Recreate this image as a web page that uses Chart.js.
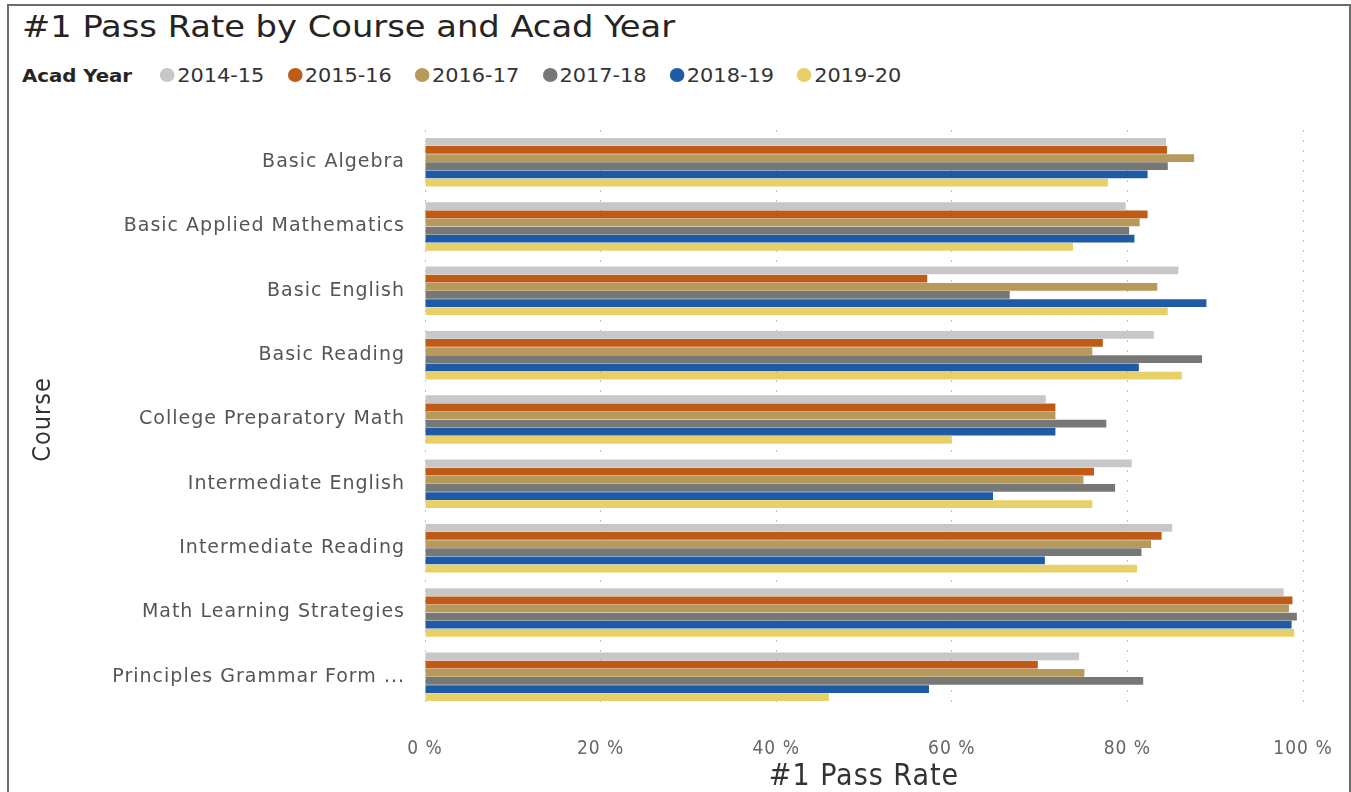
<!DOCTYPE html>
<html>
<head>
<meta charset="utf-8">
<script src="https://cdn.jsdelivr.net/npm/chart.js@4.4.1/dist/chart.umd.min.js"></script>
<style>
  body { margin: 0; background: #fff; overflow: hidden; }
  #frame { position: absolute; left: 7px; top: 4px; width: 1340px; height: 800px; border: 2px solid #6b6b6b; border-bottom: none; }
  #title { position: absolute; left: 22px; top: 9px; font: 30px "DejaVu Sans Condensed", sans-serif; color: #252423; transform-origin: left top; transform: scaleX(1.25); white-space: nowrap; }
  #legend { position: absolute; left: 22px; top: 64px; font: 19px "DejaVu Sans Condensed", sans-serif; color: #333; transform-origin: left top; transform: scaleX(1.22); white-space: nowrap; display: flex; align-items: center; }
  #legend b { margin-right: 23px; color: #252423; font-size: 18px; }
  .item { display: flex; align-items: center; margin-right: 19px; }
  .dot { width: 12px; height: 14px; border-radius: 50%; margin-right: 2px; }
  #wrap { position: absolute; left: 0; top: 0; width: 1351px; height: 792px; }
</style>
</head>
<body>
<div id="frame"></div>
<div id="title">#1 Pass Rate by Course and Acad Year</div>
<div id="legend"><b>Acad Year</b></div>
<div id="wrap"><canvas id="chart"></canvas></div>
<script>
// valeurs (en %)
const courses = [
  'Basic Algebra',
  'Basic Applied Mathematics',
  'Basic English',
  'Basic Reading',
  'College Preparatory Math',
  'Intermediate English',
  'Intermediate Reading',
  'Math Learning Strategies',
  'Principles Grammar Form ...'
];
const years = ['2014-15', '2015-16', '2016-17', '2017-18', '2018-19', '2019-20'];
const yearColors = ['#c5c7c9', '#bf5b17', '#b8995c', '#767876', '#1f5aa6', '#e8d068'];

const rate1415 = [84.4, 79.8, 85.8, 83.0, 70.7, 80.5, 85.1, 97.8, 74.5];
const rate1516 = [84.5, 82.3, 57.2, 77.2, 71.8, 76.2, 83.9, 98.8, 69.8];
const rate1617 = [87.6, 81.4, 83.4, 76.0, 71.8, 75.0, 82.7, 98.4, 75.1];
const rate1718 = [84.6, 80.2, 66.6, 88.5, 77.6, 78.6, 81.6, 99.3, 81.8];
const rate1819 = [82.3, 80.8, 89.0, 81.3, 71.8, 64.7, 70.6, 98.7, 57.4];
const rate1920 = [77.8, 73.8, 84.6, 86.2, 60.0, 76.0, 81.1, 99.0, 46.0];
const rates = [rate1415, rate1516, rate1617, rate1718, rate1819, rate1920];

const xTicks = [0, 20, 40, 60, 80, 100];

// légende
const legend = document.getElementById('legend');
years.forEach((y, i) => {
  const item = document.createElement('span');
  item.className = 'item';
  item.innerHTML = `<span class="dot" style="background:${yearColors[i]}"></span>${y}`;
  legend.appendChild(item);
});

const condensed = '"DejaVu Sans Condensed", sans-serif';

// le texte du visuel d'origine est étiré en largeur
const spacing = {
  id: 'spacing',
  beforeDraw: chart => { chart.ctx.letterSpacing = '1px'; }
};

new Chart(document.getElementById('chart'), {
  type: 'bar',
  data: {
    labels: courses,
    datasets: years.map((y, i) => ({
      label: y,
      data: rates[i],
      backgroundColor: yearColors[i],
      barPercentage: 0.95,
      categoryPercentage: 0.76
    }))
  },
  options: {
    indexAxis: 'y',
    responsive: true,
    maintainAspectRatio: false,
    animation: false,
    layout: { padding: { left: 26, top: 130, right: 48, bottom: 0 } },
    plugins: { legend: { display: false }, tooltip: { enabled: false } },
    scales: {
      x: {
        min: 0,
        max: 100,
        afterBuildTicks: s => { s.ticks = xTicks.map(v => ({ value: v })); },
        afterFit: s => { s.height = 83; s.paddingLeft = 0; s.paddingRight = 0; },
        ticks: {
          callback: v => v + ' %',
          color: '#666',
          font: { family: condensed, size: 19 },
          padding: 29
        },
        grid: { color: '#bdbdbd', drawTicks: false, lineWidth: 1 },
        border: { display: false, dash: [2, 8] },
        title: {
          display: true,
          text: '#1 Pass Rate',
          color: '#333',
          font: { family: condensed, size: 30, lineHeight: 1 },
          padding: { top: 0, bottom: 0 }
        }
      },
      y: {
        afterFit: s => { s.width = 425 - 26; },
        grid: { display: false, drawTicks: false },
        border: { display: false },
        ticks: {
          color: '#555',
          font: { family: '"DejaVu Sans", sans-serif', size: 19 },
          padding: 20
        },
        title: {
          display: true,
          text: 'Course',
          color: '#333',
          font: { family: condensed, size: 25 },
          padding: { top: 2, bottom: 0 }
        }
      }
    }
  },
  plugins: [spacing]
});
</script>
</body>
</html>
